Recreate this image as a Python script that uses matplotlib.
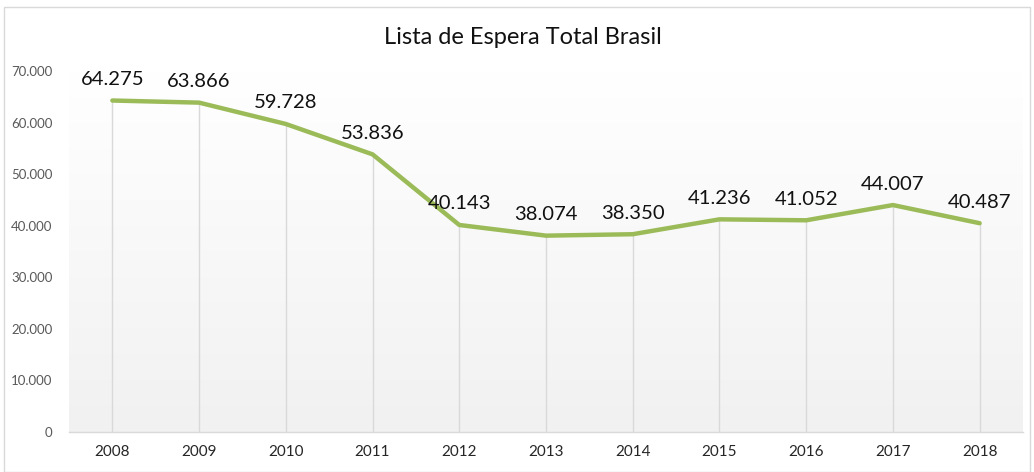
import matplotlib
matplotlib.use("Agg")
import matplotlib.pyplot as plt
import numpy as np
from matplotlib.patches import Rectangle

years = ["2008", "2009", "2010", "2011", "2012", "2013", "2014", "2015", "2016", "2017", "2018"]
values = [64275, 63866, 59728, 53836, 40143, 38074, 38350, 41236, 41052, 44007, 40487]
yticks = [0, 10000, 20000, 30000, 40000, 50000, 60000, 70000]
title = "Lista de Espera Total Brasil"

plt.rcParams['font.family'] = ['Lato', 'DejaVu Sans']

fig = plt.figure(figsize=(10.34, 4.72), dpi=100)
ax = fig.add_axes([69/1034, 1-432/472, (1023-69)/1034, (432-71)/472])

x = np.arange(len(years))
ax.set_xlim(-0.5, len(years)-0.5)
ax.set_ylim(0, 70000)

# gradient background
grad = np.linspace(1.0, 0.945, 256).reshape(-1, 1)
ax.imshow(np.dstack([grad, grad, grad]), extent=[0, 1, 0, 1], transform=ax.transAxes,
          aspect='auto', zorder=0)

ax.vlines(x, 0, values, colors='#D9D9D9', linewidth=1.0, zorder=1)
ax.plot(x, values, color='#9BBB59', linewidth=3.2, solid_capstyle='round', zorder=3)

for xi, v in zip(x, values):
    ax.annotate(f"{v:,}".replace(",", "."), (xi, v), xytext=(0, 9), textcoords='offset points',
                ha='center', va='bottom', fontsize=14.6, color='#111111', zorder=4)

ax.set_xticks(x)
ax.set_xticklabels(years, fontsize=11, color='#262626')
ax.set_yticks(yticks)
ax.set_yticklabels([f"{t:,}".replace(",", ".") for t in yticks], fontsize=9.5, color='#595959')
ax.tick_params(axis='both', length=0)
ax.tick_params(axis='x', pad=9)
ax.tick_params(axis='y', pad=12)
for s in ['top', 'right', 'left']:
    ax.spines[s].set_visible(False)
ax.spines['bottom'].set_color('#D9D9D9')
ax.spines['bottom'].set_linewidth(1.0)

fig.text(523/1034, 1-38/472, title, ha='center', va='center', fontsize=17, color='#111111')

fig.patches.append(Rectangle((4/1034, 0), 1-8/1034, 1-7/472, transform=fig.transFigure,
                             fill=False, edgecolor='#D9D9D9', linewidth=1.0))

fig.savefig("out.png", dpi=100)
